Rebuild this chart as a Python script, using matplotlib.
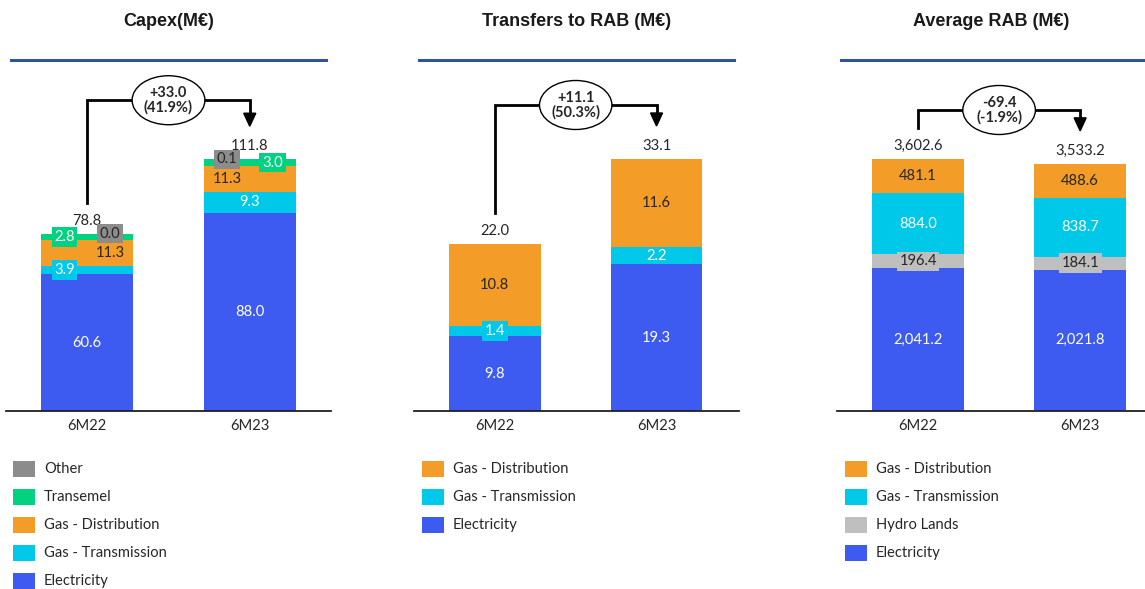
import numpy as np
import matplotlib
matplotlib.use('Agg')
import matplotlib.pyplot as plt
from matplotlib.patches import Ellipse, Rectangle, Polygon
from matplotlib.lines import Line2D

# ---- data ----
periods = ['6M22', '6M23']

capex_labels = ['Electricity', 'Gas - Transmission', 'Gas - Distribution', 'Transemel', 'Other']
capex_values = [[60.6, 88.0], [3.9, 9.3], [11.3, 11.3], [2.8, 3.0], [0.0, 0.1]]
capex_totals = [78.8, 111.8]
capex_delta = ['+33.0', '(41.9%)']

transf_labels = ['Electricity', 'Gas - Transmission', 'Gas - Distribution']
transf_values = [[9.8, 19.3], [1.4, 2.2], [10.8, 11.6]]
transf_totals = [22.0, 33.1]
transf_delta = ['+11.1', '(50.3%)']

rab_labels = ['Electricity', 'Hydro Lands', 'Gas - Transmission', 'Gas - Distribution']
rab_values = [[2041.2, 2021.8], [196.4, 184.1], [884.0, 838.7], [481.1, 488.6]]
rab_totals = [3602.6, 3533.2]
rab_delta = ['-69.4', '(-1.9%)']

colors = {
    'Electricity': '#3D5AF1',
    'Gas - Transmission': '#00C8E8',
    'Gas - Distribution': '#F39C27',
    'Transemel': '#00D27F',
    'Other': '#8C8C8C',
    'Hydro Lands': '#BFBFBF',
}
text_on = {
    'Electricity': 'white',
    'Gas - Transmission': 'white',
    'Gas - Distribution': '#262626',
    'Transemel': 'white',
    'Other': '#262626',
    'Hydro Lands': '#262626',
}

W, H = 1145, 589
fig = plt.figure(figsize=(W / 100, H / 100), dpi=100)
LBL = 'Lato'
TTL = 'Liberation Sans'
FS = 10.6


def fx(px):
    return px / W


def fy(py):
    return 1 - py / H


AX_TOP, AX_BOT = 60, 411


def panel(left, right, xmax, title, line_x, labels, values, totals, delta,
          label_pos, boxed, fmt, lift, legend_x):
    ax = fig.add_axes([fx(left), fy(AX_BOT), fx(right - left), (AX_BOT - AX_TOP) / H])
    ax_h = AX_BOT - AX_TOP
    ymax = max(totals) * ax_h / 252.0
    upp = ymax / ax_h  # data units per pixel
    x = np.arange(len(periods))
    width = 0.565
    bottom = np.zeros(len(periods))
    for i, lab in enumerate(labels):
        vals = np.array(values[i])
        ax.bar(x, vals, width, bottom=bottom, color=colors[lab], linewidth=0)
        for j in range(len(periods)):
            pos = label_pos.get((lab, j), 'c')
            dx = {'c': 0.0, 'l': -0.14, 'r': 0.14}[pos]
            yc = bottom[j] + vals[j] / 2
            bb = None
            if (lab, j) in boxed:
                bb = dict(boxstyle='square,pad=0.18', fc=colors[lab], ec='none')
            ax.text(x[j] + dx, yc, fmt(vals[j]), ha='center', va='center',
                    fontsize=FS, family=LBL, color=text_on[lab], bbox=bb, zorder=4)
        bottom += vals
    for j in range(len(periods)):
        ax.text(x[j], bottom[j] + 6 * upp, fmt(totals[j]), ha='center', va='bottom',
                fontsize=FS, family=LBL, color='#262626')

    # change bracket with ellipse and arrow
    y_left = bottom[0] + 31 * upp
    y_top = max(bottom) + lift * upp
    y_tip = bottom[1] + 33 * upp
    ax.plot([x[0], x[0], x[1], x[1]], [y_left, y_top, y_top, y_tip + 11 * upp],
            color='black', lw=2.0, solid_joinstyle='miter', clip_on=False, zorder=5)
    aw = 0.037
    ax.add_patch(Polygon([[x[1] - aw, y_tip + 13 * upp], [x[1] + aw, y_tip + 13 * upp],
                          [x[1], y_tip]], closed=True, color='black', clip_on=False, zorder=5))
    xm = (x[0] + x[1]) / 2
    ax.add_patch(Ellipse((xm, y_top), 73 / 163, 49 * upp, fc='white', ec='black',
                         lw=1.0, clip_on=False, zorder=6))
    ax.text(xm, y_top, delta[0] + '\n' + delta[1], ha='center', va='center',
            fontsize=10.5, family=LBL, fontweight='bold', color='#262626',
            linespacing=1.0, zorder=7)

    ax.set_xlim(-0.5, xmax)
    ax.set_ylim(0, ymax)
    ax.set_xticks(x)
    ax.set_xticklabels(periods, family=LBL, fontsize=FS, color='#262626')
    ax.tick_params(axis='x', length=0, pad=6)
    ax.set_yticks([])
    for s in ['left', 'right', 'top']:
        ax.spines[s].set_visible(False)
    ax.spines['bottom'].set_linewidth(1.3)
    ax.spines['bottom'].set_color('#202020')

    # title and rule
    fig.text(fx((left + right) / 2), fy(22), title, ha='center', va='center',
             fontsize=13, family=TTL, fontweight='bold', color='#1a1a1a')
    fig.add_artist(Line2D([fx(line_x[0]), fx(line_x[1])], [fy(60), fy(60)],
                          color='#2F5597', lw=2.2))

    # legend, top of stack first
    for k, lab in enumerate(labels[::-1]):
        yc = 469 + 28 * k
        fig.add_artist(Rectangle((fx(legend_x), fy(yc + 8)), fx(22), 16 / H,
                                 fc=colors[lab], ec='none'))
        fig.text(fx(legend_x + 31), fy(yc), lab, ha='left', va='center',
                 fontsize=FS, family=LBL, color='#262626')
    return ax


def f1(v):
    return f'{v:.1f}'


def fk(v):
    return f'{v:,.1f}'


panel(6, 331, 1.5, 'Capex(M€)', (11, 326), capex_labels, capex_values, capex_totals,
      capex_delta,
      {('Gas - Transmission', 0): 'l', ('Gas - Distribution', 0): 'r',
       ('Transemel', 0): 'l', ('Other', 0): 'r',
       ('Gas - Distribution', 1): 'l', ('Other', 1): 'l', ('Transemel', 1): 'r'},
      {('Gas - Transmission', 0), ('Transemel', 0), ('Other', 0),
       ('Other', 1), ('Transemel', 1)},
      f1, 59, 13)

panel(414, 739, 1.51, 'Transfers to RAB (M€)', (419, 734), transf_labels, transf_values,
      transf_totals, transf_delta, {}, {('Gas - Transmission', 0)}, f1, 54, 422)

panel(837, 1145, 1.40, 'Average RAB (M€)', (841, 1145), rab_labels, rab_values,
      rab_totals, rab_delta, {}, {('Hydro Lands', 0), ('Hydro Lands', 1)}, fk, 49, 845)

fig.savefig('out.png', dpi=100)
